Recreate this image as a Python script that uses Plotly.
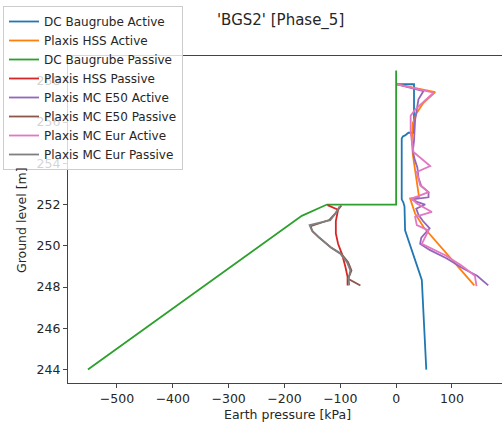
import plotly.graph_objects as go

# ---- data ----
blue_x = [1, 32, 32, 22, 16, 12, 10, 10, 13, 15, 16, 46, 54]
blue_h = [257.83, 257.83, 255.48, 255.48, 255.35, 255.3, 255.2, 252.25, 252.1, 251.9, 250.75, 248.35, 244.0]

orange_x = [2, 70, 49, 37, 30, 28, 30, 37, 41, 25, 34, 49, 85, 115, 140]
orange_h = [257.83, 257.45, 256.93, 256.45, 255.96, 255.1, 254.4, 252.94, 252.37, 252.29, 251.56, 250.91, 249.78, 248.81, 248.08]

green_x = [0, 0, -124, -169, -552]
green_h = [258.5, 252.0, 252.0, 251.45, 244.0]

red_x = [-123, -104, -108, -108, -104, -97, -91, -87, -87]
red_h = [251.97, 251.75, 251.2, 250.6, 250.1, 249.6, 249.0, 248.5, 248.08]

purple_x = [2, 49, 40, 37, 34, 32, 30, 33, 38, 40, 45, 58, 58, 28, 40, 52, 36, 40, 48, 60, 45, 43, 60, 90, 120, 145, 165]
purple_h = [257.83, 257.5, 257.1, 256.6, 256.1, 255.1, 254.6, 254.2, 253.8, 253.3, 252.9, 252.6, 252.35, 252.25, 252.1, 252.0, 251.8, 251.5, 251.2, 250.85, 250.4, 250.1, 249.8, 249.4, 248.9, 248.55, 248.08]

brown_x = [-98, -108, -120, -145, -153, -150, -138, -116, -98, -86, -80, -86, -64]
brown_h = [251.95, 251.6, 251.25, 251.05, 250.95, 250.7, 250.4, 249.9, 249.6, 249.2, 248.8, 248.4, 248.08]

pink_x = [2, 67, 34, 26, 26, 28, 31, 61, 37, 43, 58, 28, 37, 64, 34, 37, 58, 46, 88, 117, 141, 144]
pink_h = [257.83, 257.42, 256.6, 256.3, 255.5, 255.0, 254.55, 253.87, 253.58, 252.94, 252.6, 252.29, 252.05, 251.64, 251.4, 251.0, 250.75, 250.1, 249.54, 249.05, 248.55, 248.05]

gray_x = [-101, -109, -118, -142, -155, -151, -139, -118, -100, -88, -82, -85, -84]
gray_h = [251.92, 251.56, 251.24, 251.08, 251.0, 250.75, 250.43, 249.94, 249.62, 249.21, 248.81, 248.41, 248.08]

series = [
    ("DC Baugrube Active", blue_x, blue_h, "#1f77b4"),
    ("Plaxis HSS Active", orange_x, orange_h, "#ff7f0e"),
    ("DC Baugrube Passive", green_x, green_h, "#2ca02c"),
    ("Plaxis HSS Passive", red_x, red_h, "#d62728"),
    ("Plaxis MC E50 Active", purple_x, purple_h, "#9467bd"),
    ("Plaxis MC E50 Passive", brown_x, brown_h, "#8c564b"),
    ("Plaxis MC Eur Active", pink_x, pink_h, "#e377c2"),
    ("Plaxis MC Eur Passive", gray_x, gray_h, "#7f7f7f"),
]

x_ticks = [-500, -400, -300, -200, -100, 0, 100]
y_ticks = [244, 246, 248, 250, 252, 254, 256, 258]

title_text = "'BGS2' [Phase_5]"
x_label = "Earth pressure [kPa]"
y_label = "Ground level [m]"

FONT = "DejaVu Sans"
TXT = "#262626"

# plot area in pixels
L, R, T, B = 68, 502, 56, 383
PW, PH = R - L, B - T


def px(xp):
    return (xp - L) / PW


def py(yp):
    return (B - yp) / PH


fig = go.Figure()
for name, xs, hs, col in series:
    fig.add_trace(go.Scatter(x=xs, y=hs, mode="lines", name=name,
                             line=dict(color=col, width=1.8)))

fig.update_layout(
    width=502, height=423,
    margin=dict(l=L, r=502 - R, t=T, b=423 - B, autoexpand=False),
    paper_bgcolor="white", plot_bgcolor="white",
    font=dict(family=FONT, size=12, color=TXT),
    showlegend=True,
    legend=dict(x=px(3), y=py(6), xanchor="left", yanchor="top",
                bgcolor="rgba(255,255,255,0.8)", bordercolor="#cccccc", borderwidth=1,
                font=dict(size=12, family=FONT, color=TXT),
                tracegroupgap=0, itemwidth=30),
    annotations=[
        dict(text=title_text, xref="paper", yref="paper", x=px(280.5), y=py(20),
             xanchor="center", yanchor="middle", showarrow=False,
             font=dict(size=15, family=FONT, color=TXT)),
        dict(text=x_label, xref="paper", yref="paper", x=px(287.5), y=py(414),
             xanchor="center", yanchor="middle", showarrow=False,
             font=dict(size=12.5, family=FONT, color=TXT)),
        dict(text=y_label, xref="paper", yref="paper", x=px(22), y=py(220),
             xanchor="center", yanchor="middle", showarrow=False, textangle=-90,
             font=dict(size=12.5, family=FONT, color=TXT)),
    ],
)

fig.update_xaxes(
    range=[-587.7, 189.6], tickvals=x_ticks, showgrid=False, zeroline=False,
    showline=True, linecolor="#444444", linewidth=1.2, mirror=True,
    ticks="outside", ticklen=4, tickcolor="#444444", tickwidth=1.2,
    tickfont=dict(size=12.5, family=FONT, color=TXT), automargin=False,
)
fig.update_yaxes(
    range=[243.35, 259.2], tickvals=y_ticks, showgrid=False, zeroline=False,
    showline=True, linecolor="#444444", linewidth=1.2, mirror=False,
    ticks="outside", ticklen=4, tickcolor="#444444", tickwidth=1.2,
    tickfont=dict(size=12.5, family=FONT, color=TXT), automargin=False,
)

fig.write_html(
    "out.html",
    config={"displayModeBar": False},
    post_script="document.body.style.margin='0';document.body.style.overflow='hidden';",
)
